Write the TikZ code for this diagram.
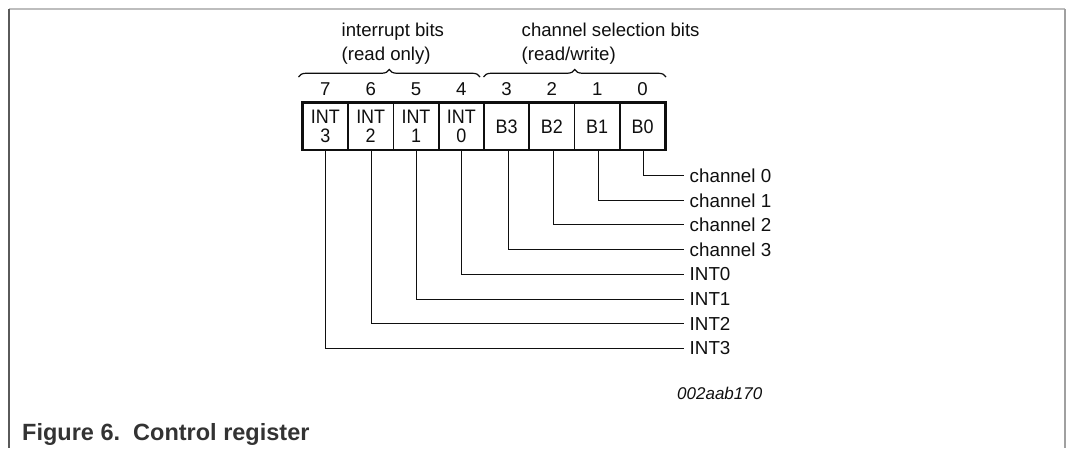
\documentclass[tikz,border=0pt]{standalone}
\usepackage{fontspec}
\setmainfont{Liberation Sans}
\newfontfamily\cellfont[FakeStretch=0.92]{Liberation Sans}
\usetikzlibrary{decorations.pathreplacing}
\definecolor{ink}{HTML}{0F0F0F}
\definecolor{captgray}{HTML}{333333}
\definecolor{frametop}{HTML}{BDBDBD}
\definecolor{frameleft}{HTML}{5A5A5A}
\definecolor{frameright}{HTML}{A0A0A0}
\begin{document}
\begin{tikzpicture}[x=1pt,y=1pt,
  cell/.style={draw=ink, line width=1.6pt, minimum width=45.4pt, minimum height=46pt,
    inner sep=0pt, align=center, text=ink, font=\cellfont\fontsize{19.5}{19.6}\selectfont},
  bitnum/.style={anchor=base, inner sep=0pt, text=ink, font=\fontsize{18.6}{21}\selectfont},
  head/.style={anchor=base west, inner sep=0pt, text=ink, font=\fontsize{18.6}{21}\selectfont},
  lbl/.style={anchor=west, inner xsep=5.5pt, inner ysep=0pt, text=ink, font=\fontsize{18.8}{21}\selectfont},
  conn/.style={draw=ink, line width=1.3pt},
  brc/.style={draw=ink, line width=1.2pt, decorate, decoration={brace, amplitude=7.5pt}},
]
\useasboundingbox (0,0) rectangle (1066,-448);
% frame
\draw[frametop, line width=1.5pt] (9,-9) -- (1065,-9);
\draw[frameleft, line width=1.5pt] (9,-9) -- (9,-448);
\draw[frameright, line width=1.5pt] (1065,-9) -- (1065,-448);

% headings
\node[head] (h1) at (341.5,-36) {interrupt bits};
\node[head] (h2) at (341.5,-60) {(read only)};
\node[head] (h3) at (521.5,-36) {channel selection bits};
\node[head] (h4) at (521.5,-60) {(read/write)};

% braces
\coordinate (bl1) at (298.5,-77);
\coordinate (bl2) at (480,-77);
\coordinate (br1) at (483.5,-77);
\coordinate (br2) at (666,-77);
\draw[brc] (bl1) -- (bl2);
\draw[brc] (br1) -- (br2);

% bit numbers
\node[bitnum] (n7) at (325.4,-95) {7};
\node[bitnum] (n6) at (370.7,-95) {6};
\node[bitnum] (n5) at (416.0,-95) {5};
\node[bitnum] (n4) at (461.3,-95) {4};
\node[bitnum] (n3) at (506.6,-95) {3};
\node[bitnum] (n2) at (551.9,-95) {2};
\node[bitnum] (n1) at (597.2,-95) {1};
\node[bitnum] (n0) at (642.5,-95) {0};

% cells
\node[cell] (c7) at (325.4,-126.3) {INT\\3};
\node[cell] (c6) at (370.7,-126.3) {INT\\2};
\node[cell] (c5) at (416.0,-126.3) {INT\\1};
\node[cell] (c4) at (461.3,-126.3) {INT\\0};
\node[cell] (c3) at (506.6,-126.3) {B3};
\node[cell] (c2) at (551.9,-126.3) {B2};
\node[cell] (c1) at (597.2,-126.3) {B1};
\node[cell] (c0) at (642.5,-126.3) {B0};
\draw[ink, line width=2.4pt] (c7.north west) rectangle (c0.south east);

% labels
\node[lbl] (l0) at (684,-175.5) {channel 0};
\node[lbl] (l1) at (684,-200.5) {channel 1};
\node[lbl] (l2) at (684,-224.5) {channel 2};
\node[lbl] (l3) at (684,-249.5) {channel 3};
\node[lbl] (l4) at (684,-274.5) {INT0};
\node[lbl] (l5) at (684,-299.5) {INT1};
\node[lbl] (l6) at (684,-323.5) {INT2};
\node[lbl] (l7) at (684,-348.5) {INT3};

% connectors
\draw[conn] ([xshift=1pt]c0.south) |- (l0.west);
\draw[conn] ([xshift=1.3pt]c1.south) |- (l1.west);
\draw[conn] ([xshift=1.6pt]c2.south) |- (l2.west);
\draw[conn] ([xshift=1.9pt]c3.south) |- (l3.west);
\draw[conn] ([xshift=0.2pt]c4.south) |- (l4.west);
\draw[conn] ([xshift=0.5pt]c5.south) |- (l5.west);
\draw[conn] ([xshift=0.8pt]c6.south) |- (l6.west);
\draw[conn] ([xshift=0.1pt]c7.south) |- (l7.west);

% id and caption
\node[anchor=base west, inner sep=0pt, text=ink, font=\fontsize{17}{19}\selectfont\itshape] (id) at (677,-399) {002aab170};
\node[anchor=base west, inner sep=0pt, text=captgray, font=\fontsize{23.5}{26}\selectfont\bfseries] (cap) at (22,-440) {Figure 6.\ \ Control register};
\end{tikzpicture}
\end{document}
